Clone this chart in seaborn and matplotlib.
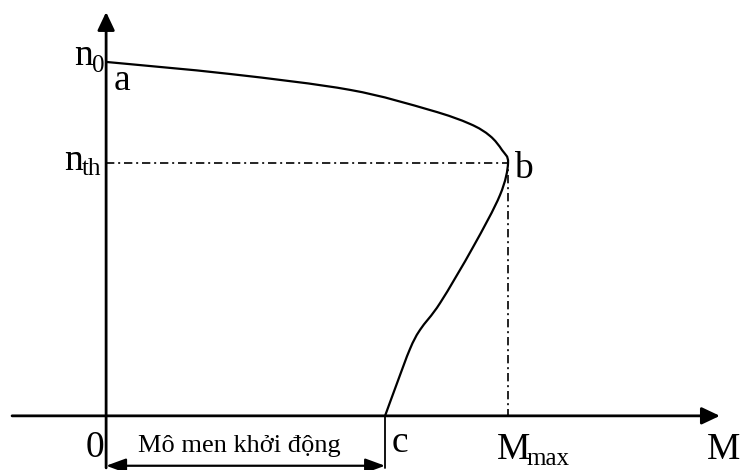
import matplotlib
matplotlib.use("Agg")
import matplotlib.pyplot as plt
from matplotlib.path import Path
from matplotlib.patches import PathPatch
import seaborn as sns
import pandas as pd

sns.set_theme(style="white")
plt.rcParams["font.family"] = ["Liberation Serif", "DejaVu Serif"]

# Mechanical characteristic n = f(M) of an induction motor (per-unit values)
torque = [0.000, 0.308, 0.607, 0.806, 0.905, 0.955, 0.985, 1.000,
          0.980, 0.913, 0.831, 0.781, 0.756, 0.724, 0.694]
speed = [1.000, 0.966, 0.921, 0.864, 0.825, 0.791, 0.751, 0.715,
         0.624, 0.477, 0.319, 0.243, 0.189, 0.093, 0.000]

n0 = 1.000        # synchronous speed (point a)
n_th = 0.715      # critical speed (point b)
M_max = 1.000     # breakdown torque (point b)
M_start = 0.694   # starting torque (point c)

guides = pd.DataFrame({
    "M": [0, M_max, M_max],
    "n": [n_th, n_th, 0],
})

fig = plt.figure(figsize=(7.44, 4.70), dpi=100)
ax = fig.add_axes([0, 0, 1, 1])
ax.set_xlim(-0.264, 1.587)
ax.set_ylim(-0.153, 1.175)
ax.axis("off")

BLACK = "black"

# coordinate axes with arrow heads
x_axis_start, x_axis_end = -0.234, 1.527
y_axis_end = 1.141
bracket_bottom = -0.147
arrow_main = dict(arrowstyle="-|>,head_length=0.55,head_width=0.26",
                  mutation_scale=20, color=BLACK, lw=2.0, shrinkA=0, shrinkB=0)
ax.annotate("", xy=(x_axis_end, 0), xytext=(x_axis_start, 0), arrowprops=arrow_main)
ax.annotate("", xy=(0, y_axis_end), xytext=(0, bracket_bottom), arrowprops=arrow_main)


def smooth_path(xs, ys):
    """Cubic Bezier path passing through every point (Catmull-Rom tangents)."""
    pts = list(zip(xs, ys))
    verts = [pts[0]]
    codes = [Path.MOVETO]
    for i in range(len(pts) - 1):
        p_prev = pts[max(i - 1, 0)]
        p0, p1 = pts[i], pts[i + 1]
        p_next = pts[min(i + 2, len(pts) - 1)]
        c1 = (p0[0] + (p1[0] - p_prev[0]) / 6, p0[1] + (p1[1] - p_prev[1]) / 6)
        c2 = (p1[0] - (p_next[0] - p0[0]) / 6, p1[1] - (p_next[1] - p0[1]) / 6)
        verts += [c1, c2, p1]
        codes += [Path.CURVE4] * 3
    return Path(verts, codes)


# characteristic curve a -> b -> c
ax.add_patch(PathPatch(smooth_path(torque, speed), facecolor="none",
                       edgecolor=BLACK, lw=1.6, capstyle="round"))

# dash-dot guide lines to point b
sns.lineplot(data=guides, x="M", y="n", sort=False, estimator=None,
             color=BLACK, lw=1.2, dashes=False, ax=ax, legend=False)
ax.lines[-1].set_dashes((5.0, 2.3, 1.2, 2.3))

# starting-torque dimension
ax.plot([M_start, M_start], [0, bracket_bottom], color=BLACK, lw=1.3)
dim_y = -0.141
ax.annotate("", xy=(0, dim_y), xytext=(M_start, dim_y),
            arrowprops=dict(arrowstyle="<|-|>,head_length=0.6,head_width=0.22",
                            mutation_scale=20, color=BLACK, lw=1.6,
                            shrinkA=0, shrinkB=0))

big = 27
small = 18


def label(text, anchor, offset, size, ha="left"):
    ax.annotate(text, xy=anchor, xytext=offset, textcoords="offset pixels",
                fontsize=size, ha=ha, va="baseline", color=BLACK)


label("n", (0, n0), (-32, -3), big)
label("0", (0, n0), (-14, -10), small)
label("a", (0, n0), (8, -28), big)
label("n", (0, n_th), (-42, -7), big)
label("th", (0, n_th), (-24, -12), small)
label("b", (M_max, n_th), (6, -15), big)
label("0", (0, 0), (-20, -41), big)
label("c", (M_start, 0), (7, -36), big)
label("M", (M_max, 0), (-11, -43), big)
label("max", (M_max, 0), (18, -49), small)
label("M", (x_axis_end, 0), (-13, -43), big)
label("Mô men khởi động", (M_start / 2, 0), (-6, -36), 19, ha="center")

fig.savefig("out.png", dpi=100)
